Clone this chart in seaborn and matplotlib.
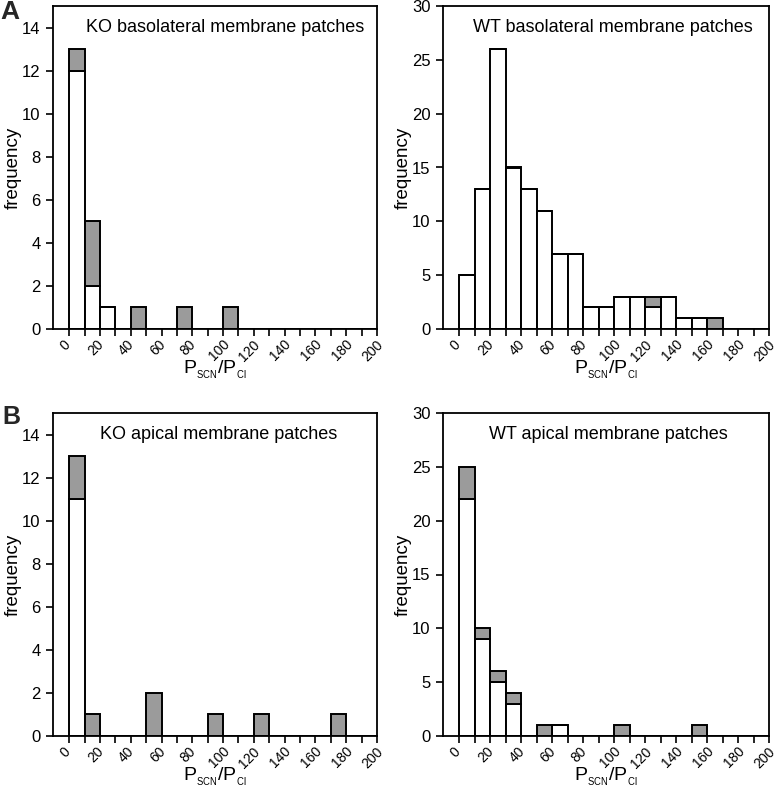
import matplotlib
matplotlib.use("Agg")
import matplotlib.pyplot as plt
import matplotlib.transforms as mtransforms
import seaborn as sns
import pandas as pd
import numpy as np

sns.set_theme(style="ticks")
plt.rcParams['font.family'] = ['Liberation Sans', 'DejaVu Sans']

# bin starts (width 10) and counts: "open" (white) and "grey" portions
ko_baso_bins = [0, 10, 20, 40, 70, 100]
ko_baso_white = [12, 2, 1, 0, 0, 0]
ko_baso_grey = [1, 3, 0, 1, 1, 1]

wt_baso_bins = [0, 10, 20, 30, 40, 50, 60, 70, 80, 90, 100, 110, 120, 130, 140, 150, 160]
wt_baso_white = [5, 13, 26, 15, 13, 11, 7, 7, 2, 2, 3, 3, 2, 3, 1, 1, 0]
wt_baso_grey = [0, 0, 0, 0, 0, 0, 0, 0, 0, 0, 0, 0, 1, 0, 0, 0, 1]

ko_api_bins = [0, 10, 50, 90, 120, 170]
ko_api_white = [11, 0, 0, 0, 0, 0]
ko_api_grey = [2, 1, 2, 1, 1, 1]

wt_api_bins = [0, 10, 20, 30, 50, 60, 100, 150]
wt_api_white = [22, 9, 5, 3, 0, 1, 0, 0]
wt_api_grey = [3, 1, 1, 1, 1, 0, 1, 1]

titles = ["KO basolateral membrane patches", "WT basolateral membrane patches",
          "KO apical membrane patches", "WT apical membrane patches"]
xtick_labels = [str(v) for v in range(0, 201, 20)]
xlabel = r'P$_{{}_{\mathregular{SCN}}}$/P$_{{}_{\mathregular{Cl}}}$'

panels = [
    (ko_baso_bins, ko_baso_white, ko_baso_grey, 15, 2),
    (wt_baso_bins, wt_baso_white, wt_baso_grey, 30, 5),
    (ko_api_bins, ko_api_white, ko_api_grey, 15, 2),
    (wt_api_bins, wt_api_white, wt_api_grey, 30, 5),
]
title_x = [0.532, 0.52, 0.51, 0.508]

fig = plt.figure(figsize=(7.77, 7.88), dpi=100)
W, H = 777, 788
rects = [
    (53, 6, 377, 329),
    (443, 6, 769, 329),
    (53, 413, 377, 736),
    (443, 413, 769, 736),
]
shift = mtransforms.ScaledTranslation(-4 / 100, 0, fig.dpi_scale_trans)

for i, ((bins, white, grey, ymax, ystep), (l, t, r, b)) in enumerate(zip(panels, rects)):
    ax = fig.add_axes([l / W, 1 - b / H, (r - l) / W, (b - t) / H])
    df = pd.DataFrame({
        'x': list(np.array(bins) + 5) * 2,
        'count': list(white) + list(grey),
        'kind': ['white'] * len(bins) + ['grey'] * len(bins),
    })
    df = df[df['count'] > 0]
    sns.histplot(data=df, x='x', weights='count', hue='kind',
                 hue_order=['grey', 'white'], multiple='stack',
                 palette={'white': 'white', 'grey': '#9b9b9b'},
                 binwidth=10, binrange=(0, 200), alpha=1,
                 edgecolor='black', linewidth=1.4, legend=False, ax=ax)
    ax.set_xlim(-10.5, 200)
    ax.set_ylim(0, ymax)
    ax.set_yticks(np.arange(0, ymax + 0.1 if ymax == 30 else ymax, ystep))
    ax.set_xticks(range(0, 201, 20))
    ax.set_xticks(range(10, 200, 20), minor=True)
    ax.tick_params(axis='both', which='both', direction='out', length=5, width=1.2,
                   color='black', labelcolor='black')
    ax.tick_params(axis='y', labelsize=12, pad=4)
    ax.tick_params(axis='x', pad=1)
    ax.set_xticklabels(xtick_labels, rotation=45, ha='center', va='top', fontsize=10)
    for lab in ax.get_xticklabels():
        lab.set_transform(lab.get_transform() + shift)
    for s in ax.spines.values():
        s.set_visible(True)
        s.set_color('black')
        s.set_linewidth(1.3)
    ax.set_ylabel('frequency', fontsize=13.5, color='black', labelpad=0)
    ax.set_xlabel(xlabel, fontsize=14, color='black', labelpad=-4)
    ax.text(title_x[i], 0.932, titles[i], transform=ax.transAxes, ha='center', va='center',
            fontsize=13, color='black')

fig.text(0 / W, 1 - 0 / H, 'A', fontsize=19, fontweight='bold', ha='left', va='top')
fig.text(2 / W, 1 - 405 / H, 'B', fontsize=18, fontweight='bold', ha='left', va='top')

fig.savefig('out.png', dpi=100)
